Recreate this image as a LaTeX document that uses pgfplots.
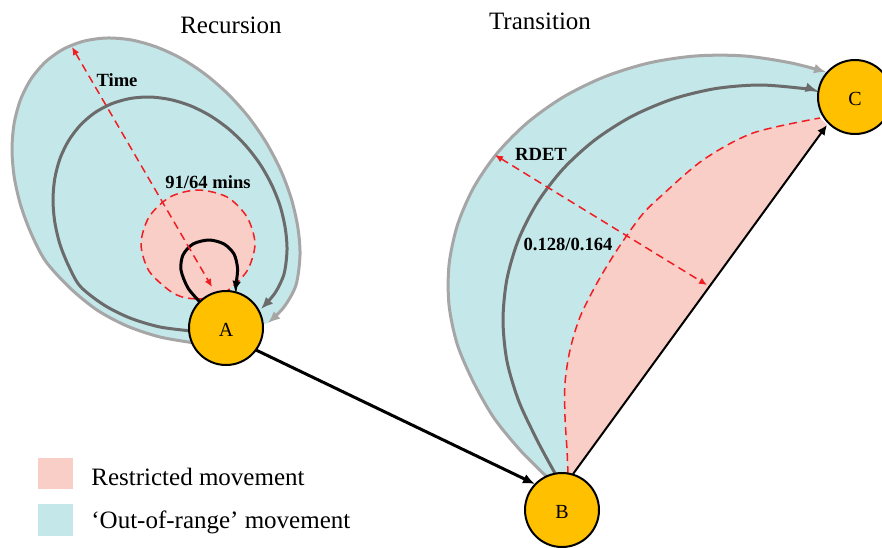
\documentclass[border=0pt]{standalone}
\usepackage{pgfplots}
\pgfplotsset{compat=1.18}
\usepackage{fontspec}
\setmainfont{Liberation Serif}
\usetikzlibrary{arrows.meta}
\definecolor{pinkf}{HTML}{F8CEC7}
\definecolor{bluef}{HTML}{C4E7E9}
\definecolor{gold}{HTML}{FFC000}
\definecolor{gout}{HTML}{A6A6A6}
\definecolor{gin}{HTML}{6B6B6B}
\definecolor{rdash}{HTML}{F01E23}
\begin{document}
\begin{tikzpicture}
\useasboundingbox (0,0) rectangle (441pt,273.5pt);
\begin{axis}[at={(0,0)}, anchor=south west, width=441pt, height=273.5pt, scale only axis,
  xmin=0, xmax=882, ymin=0, ymax=547, y dir=reverse, hide axis, clip=false]
% ---------- Recursion ----------
\addplot[fill=bluef, draw=none, smooth] coordinates {
 (195,343)(160,337)(127,326)(97,310)(70,288)(45.7,261.3)(31.3,233.8)(20.7,205.4)(14.2,176.9)(12,149.1)(14.2,123)(20.7,99.2)(31.3,78.6)(45.7,61.7)(63.4,49.1)(84,41.1)(106.8,38)(131,39.9)(156,46.8)(181,58.3)(205.2,74.2)(228,94)(248.6,117)(266.3,142.7)(280.7,170.2)(291.3,198.6)(297.8,227.1)(300,254.9)(296,285)(284,307)(268,323)} -- cycle;
\addplot[fill=pinkf, draw=rdash, line width=0.75pt, dash pattern=on 4pt off 2.5pt, smooth] coordinates {
 (198,299)(212,297.5)(227,291)(247,271)(255,244)(247,217)(227,197)(198,190)(170,197)(149,217)(141,244)(149,271)(170,291)(184,297.5)(198,299)};
\addplot[draw=gout, line width=1.5pt, smooth, -{Latex[length=6pt,width=5pt]}] coordinates {
 (195,343)(160,337)(127,326)(97,310)(70,288)(45.7,261.3)(31.3,233.8)(20.7,205.4)(14.2,176.9)(12,149.1)(14.2,123)(20.7,99.2)(31.3,78.6)(45.7,61.7)(63.4,49.1)(84,41.1)(106.8,38)(131,39.9)(156,46.8)(181,58.3)(205.2,74.2)(228,94)(248.6,117)(266.3,142.7)(280.7,170.2)(291.3,198.6)(297.8,227.1)(300,254.9)(296,285)(284,307)(268,323)};
\addplot[draw=gin, line width=1.5pt, smooth, -{Latex[length=6pt,width=5pt]}] coordinates {
 (192,331)(160,327)(130,318)(104,305)(80.4,286.5)(68.7,266)(60,244.4)(54.8,222.1)(53,199.9)(54.8,178.5)(60,158.5)(68.7,140.5)(80.4,125.1)(94.8,112.7)(111.5,103.8)(130,98.5)(149.7,97)(170,99.5)(190.3,105.7)(210,115.6)(228.5,128.8)(245.2,145)(259.6,163.5)(271.3,184)(280,205.6)(285.2,227.9)(287,250.1)(284,274)(275,293)(261,309)};
\addplot[draw=black, line width=1.5pt, smooth, -{Latex[length=5pt,width=4.5pt]}] coordinates {
 (200,302)(188,288)(181,270)(183,255)(193,244)(209,240)(224,244)(234,254)(237.5,268)(236.5,281)(235,291)};
\addplot[draw=rdash, line width=0.75pt, dash pattern=on 4pt off 2.5pt, {Latex[length=4pt,width=3.5pt]}-{Latex[length=4pt,width=3.5pt]}] coordinates {(72,47)(212,287)};
% ---------- Transition ----------
\addplot[fill=bluef, draw=none, smooth] coordinates {
 (547,477)(520,450)(494,418)(473.5,382.2)(457.3,344.5)(449,305)(449,265)(457.3,225.5)(473.5,187.8)(497.2,153.1)(527.7,122.4)(564,96.6)(605,76.6)(649.6,62.8)(696.3,55.9)(743.7,55.9)(790.4,62.8)(826,72)} -- (820,118) -- (568,474) -- cycle;
\addplot[fill=pinkf, draw=none, smooth] coordinates {
 (568,474)(567,450)(565,417)(565,383)(570,350)(580,317)(597,283)(617,250)(641,216)(660,197)(703,160)(753,133)(820,118)} -- (827,125) -- (573,474) -- cycle;
\addplot[draw=gout, line width=1.5pt, smooth, -{Latex[length=6pt,width=5pt]}] coordinates {
 (547,477)(520,450)(494,418)(473.5,382.2)(457.3,344.5)(449,305)(449,265)(457.3,225.5)(473.5,187.8)(497.2,153.1)(527.7,122.4)(564,96.6)(605,76.6)(649.6,62.8)(696.3,55.9)(743.7,55.9)(790.4,62.8)(826,72)};
\addplot[draw=gin, line width=1.5pt, smooth, -{Latex[length=6pt,width=5pt]}] coordinates {
 (556,475)(546,457)(535,436)(518.5,400.4)(506.9,360.8)(503,320)(506.9,279.2)(518.5,239.6)(537.4,202.5)(563.1,168.9)(594.8,140)(631.5,116.5)(672.1,99.2)(715.4,88.6)(760,85)(804.6,88.6)(817.5,91)};
\addplot[draw=rdash, line width=0.75pt, dash pattern=on 4pt off 2.5pt, smooth] coordinates {
 (568,474)(567,450)(565,417)(565,383)(570,350)(580,317)(597,283)(617,250)(641,216)(660,197)(703,160)(753,133)(820,118)};
\addplot[draw=black, line width=1pt, -{Latex[length=5pt,width=4.5pt]}] coordinates {(573,474)(827,125)};
\addplot[draw=rdash, line width=0.75pt, dash pattern=on 4pt off 2.5pt, {Latex[length=4pt,width=3.5pt]}-{Latex[length=4pt,width=3.5pt]}] coordinates {(495,155)(707,285)};
% A -> B
\addplot[draw=black, line width=1.5pt, -{Latex[length=6pt,width=5pt]}] coordinates {(256,350)(535,484)};
% ---------- nodes A, B, C ----------
\addplot[only marks, mark=*, mark size=18.5pt, mark options={fill=gold, draw=black, line width=1pt},
  nodes near coords, point meta=explicit symbolic,
  every node near coord/.append style={anchor=center, yshift=-1pt, text=black, font=\fontsize{10}{12}\selectfont}]
  coordinates {(226,328)[A] (562,510)[B] (855,97)[C]};
% ---------- legend squares ----------
\addplot[fill=pinkf, draw=none] coordinates {(38,458)(73,458)(73,489)(38,489)} -- cycle;
\addplot[fill=bluef, draw=none] coordinates {(38,504)(73,504)(73,536)(38,536)} -- cycle;
% ---------- text ----------
\node[font=\fontsize{12.5}{15}\selectfont] at (axis cs:231,25) {Recursion};
\node[font=\fontsize{12.5}{15}\selectfont] at (axis cs:540,21) {Transition};
\node[font=\bfseries\fontsize{9.3}{11}\selectfont] at (axis cs:117,80) {Time};
\node[font=\bfseries\fontsize{9.3}{11}\selectfont] at (axis cs:208,182) {91/64 mins};
\node[font=\bfseries\fontsize{9.3}{11}\selectfont] at (axis cs:541,154) {RDET};
\node[font=\bfseries\fontsize{9.3}{11}\selectfont] at (axis cs:568,244) {0.128/0.164};
\node[anchor=west, inner sep=0pt, font=\fontsize{12.5}{15}\selectfont] at (axis cs:91,477) {Restricted movement};
\node[anchor=west, inner sep=0pt, font=\fontsize{12.5}{15}\selectfont] at (axis cs:91,522) {‘Out-of-range’ movement};
\end{axis}
\end{tikzpicture}
\end{document}
